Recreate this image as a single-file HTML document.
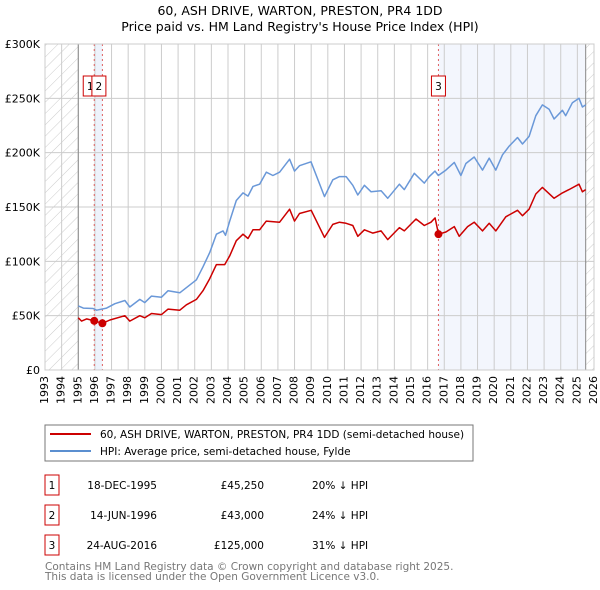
<!DOCTYPE html>
<html><head><meta charset="utf-8"><style>
body{margin:0;background:#fff;font-family:"Liberation Sans","DejaVu Sans",sans-serif;}
#wrap{position:relative;width:600px;height:590px;overflow:hidden;}
svg text{font-family:"DejaVu Sans","Liberation Sans",sans-serif;}
.xl{position:absolute;width:14px;height:36px;line-height:14px;text-align:end;font-size:11px;font-family:"DejaVu Sans","Liberation Sans",sans-serif;writing-mode:vertical-rl;writing-mode:sideways-lr;white-space:nowrap;}
</style></head><body>
<div id="wrap">
<svg id="c" width="600" height="590" xmlns="http://www.w3.org/2000/svg" style="position:absolute;left:0;top:0">
<defs><pattern id="hatch" width="8" height="8" patternUnits="userSpaceOnUse" patternTransform="rotate(45)"><line x1="0" y1="0" x2="0" y2="8" stroke="#ccc" stroke-width="1"/></pattern></defs>
<text x="300" y="15" text-anchor="middle" font-size="12.5">60, ASH DRIVE, WARTON, PRESTON, PR4 1DD</text>
<text x="300" y="31" text-anchor="middle" font-size="12.5">Price paid vs. HM Land Registry's House Price Index (HPI)</text>
<g id="plot"></g>
<rect x="45" y="425" width="428" height="36" fill="none" stroke="#777"/>
<line x1="50" y1="434" x2="91" y2="434" stroke="#cc0000" stroke-width="2"/>
<text x="100" y="438" font-size="10.5">60, ASH DRIVE, WARTON, PRESTON, PR4 1DD (semi-detached house)</text>
<line x1="50" y1="451" x2="91" y2="451" stroke="#5b8fd0" stroke-width="2"/>
<text x="100" y="455" font-size="10.5">HPI: Average price, semi-detached house, Fylde</text>
<g font-size="10.5">
<rect x="45" y="475" width="14" height="20" fill="none" stroke="#cc0000"/><text x="52" y="489" text-anchor="middle">1</text>
<text x="157" y="489" text-anchor="end">18-DEC-1995</text><text x="264" y="489" text-anchor="end">£45,250</text><text x="312" y="489">20% ↓ HPI</text>
<rect x="45" y="505" width="14" height="20" fill="none" stroke="#cc0000"/><text x="52" y="519" text-anchor="middle">2</text>
<text x="157" y="519" text-anchor="end">14-JUN-1996</text><text x="264" y="519" text-anchor="end">£43,000</text><text x="312" y="519">24% ↓ HPI</text>
<rect x="45" y="535" width="14" height="20" fill="none" stroke="#cc0000"/><text x="52" y="549" text-anchor="middle">3</text>
<text x="157" y="549" text-anchor="end">24-AUG-2016</text><text x="264" y="549" text-anchor="end">£125,000</text><text x="312" y="549">31% ↓ HPI</text>
</g>
<text x="45" y="570" font-size="10.5" fill="#777">Contains HM Land Registry data © Crown copyright and database right 2025.</text>
<text x="45" y="580" font-size="10.5" fill="#777">This data is licensed under the Open Government Licence v3.0.</text>
</svg>
</div>
<script>
const yTicks=[0,50,100,150,200,250,300];
const yTickLabels=["£0","£50K","£100K","£150K","£200K","£250K","£300K"];
const years=[1993,1994,1995,1996,1997,1998,1999,2000,2001,2002,2003,2004,2005,2006,2007,2008,2009,2010,2011,2012,2013,2014,2015,2016,2017,2018,2019,2020,2021,2022,2023,2024,2025,2026];
const hpiT=[1995.0,1995.3,1995.9,1996.1,1996.7,1997.2,1997.8,1998.1,1998.7,1999.0,1999.4,2000.0,2000.4,2001.1,2001.6,2002.1,2002.5,2002.9,2003.3,2003.7,2003.85,2004.1,2004.5,2004.9,2005.2,2005.5,2005.9,2006.3,2006.7,2007.1,2007.7,2008.0,2008.3,2008.99,2009.8,2010.3,2010.7,2011.1,2011.5,2011.8,2012.2,2012.6,2013.2,2013.6,2014.3,2014.6,2015.2,2015.8,2016.1,2016.44,2016.64,2017.1,2017.6,2018.0,2018.3,2018.8,2019.3,2019.7,2020.1,2020.5,2020.9,2021.4,2021.7,2022.1,2022.5,2022.9,2023.3,2023.6,2024.1,2024.3,2024.7,2025.1,2025.3,2025.5];
const hpiV=[59,57,56.6,55,57,61,64,58,65,62,68,67,73,71,77,83,95,108,125,128,124,137,156,163,160,169,171,182,179,182,194,183,188,191.6,159.6,175,178,178,170,161,170,164,165,158,171,166,181,172,178,183,179,184,191,179,190,196,184,195,184,198,206,214,208,215,234,244,240,231,239,234,246,250,242,244];
const priceT=[1995.0,1995.2,1995.5,1995.96,1996.45,1996.9,1997.8,1998.1,1998.7,1999.0,1999.4,2000.0,2000.4,2001.1,2001.5,2002.1,2002.5,2002.9,2003.3,2003.8,2004.1,2004.5,2004.9,2005.2,2005.5,2005.9,2006.3,2007.1,2007.7,2008.0,2008.3,2009.0,2009.8,2010.3,2010.7,2011.1,2011.5,2011.8,2012.2,2012.7,2013.2,2013.6,2014.3,2014.6,2015.3,2015.8,2016.2,2016.45,2016.65,2017.1,2017.6,2017.9,2018.4,2018.8,2019.3,2019.7,2020.1,2020.7,2021.4,2021.7,2022.1,2022.5,2022.9,2023.6,2024.1,2024.5,2025.1,2025.3,2025.5];
const priceV=[48,45,47,45.25,43,46,50,45,50,48,52,51,56,55,60,65,73,84,97,97,105,119,125,121,129,129,137,136,148,137,144,147,122,134,136,135,133,123,129,126,128,120,131,128,139,133,136,140,125,127,132,123,132,136,128,135,128,141,147,142,148,162,168,158,163,166,171,164,166];
const saleT=[1995.96,1996.45,2016.65];
const saleV=[45.25,43,125];
const saleLabels=["1","2","3"];
const X0=45,X1=594,Y0=370,Y1=44;
const xs=t=>X0+(t-1993)/(2026-1993)*(X1-X0);
const ys=v=>Y0-v/300*(Y0-Y1);
const NS="http://www.w3.org/2000/svg";
const g=document.getElementById('plot');
const wrapDiv=document.getElementById('wrap');
function mk(tag,attrs,parent){const e=document.createElementNS(NS,tag);for(const k in attrs)e.setAttribute(k,attrs[k]);(parent||g).appendChild(e);return e;}
let r;
r=mk('rect',{x:xs(saleT[0]),y:Y1,width:xs(saleT[1])-xs(saleT[0]),height:Y0-Y1,fill:'#eef3fc'});


r=mk('rect',{x:xs(saleT[2]),y:Y1,width:xs(2025.5)-xs(saleT[2]),height:Y0-Y1,fill:'#f3f6fd'});


r=mk('rect',{x:X0,y:Y1,width:xs(1995)-X0,height:Y0-Y1,fill:'url(#hatch)'});


r=mk('rect',{x:xs(2025.5),y:Y1,width:X1-xs(2025.5),height:Y0-Y1,fill:'url(#hatch)'});


years.forEach(y=>{const l=mk('line',{x1:xs(y),x2:xs(y),y1:Y1,y2:Y0,stroke:'#ccc','stroke-width':1});


const d=document.createElement('div');
d.className='xl';
d.style.left=(xs(y)-7).toFixed(1)+'px';
d.style.top=(Y0+6)+'px';
d.textContent=String(y);


wrapDiv.appendChild(d);});
yTicks.forEach((v,i)=>{const l=mk('line',{x1:X0,x2:X1,y1:ys(v),y2:ys(v),stroke:'#ccc','stroke-width':1});


const t=mk('text',{x:40,y:ys(v)+4,'font-size':11,'text-anchor':'end'});t.textContent=yTickLabels[i];

});
[1995,2025.5].forEach(y=>{const l=mk('line',{x1:xs(y),x2:xs(y),y1:Y1,y2:Y0,stroke:'#888','stroke-width':1});

});
saleT.forEach((t,i)=>{const l=mk('line',{x1:xs(t),x2:xs(t),y1:Y1,y2:Y0,stroke:'#e06060','stroke-width':1,'stroke-dasharray':'2,3'});

});
function path(T,V,col,name){const d=T.map((t,i)=>(i?'L':'M')+xs(t).toFixed(1)+','+ys(V[i]).toFixed(1)).join('');
const p=mk('path',{d:d,fill:'none',stroke:col,'stroke-width':1.5,'stroke-linejoin':'round'});

}
path(hpiT,hpiV,'#6a98d8','hpi-line');
path(priceT,priceV,'#cc0000','price-line');
saleT.forEach((t,i)=>{const c=mk('circle',{cx:xs(t),cy:ys(saleV[i]),r:4,fill:'#cc0000'});


const w=14;const x=i===0?xs(t)-11:(i===1?xs(t)-10.5:xs(t)-7);
const b=mk('rect',{x:x,y:76,width:w,height:20,fill:'#fff',stroke:'#cc0000'});


const tx=mk('text',{x:x+w/2,y:90,'font-size':10.5,'text-anchor':'middle'});tx.textContent=saleLabels[i];

});
const fr=mk('rect',{x:X0,y:Y1,width:X1-X0,height:Y0-Y1,fill:'none',stroke:'#ccc'});


</script>
</body></html>
